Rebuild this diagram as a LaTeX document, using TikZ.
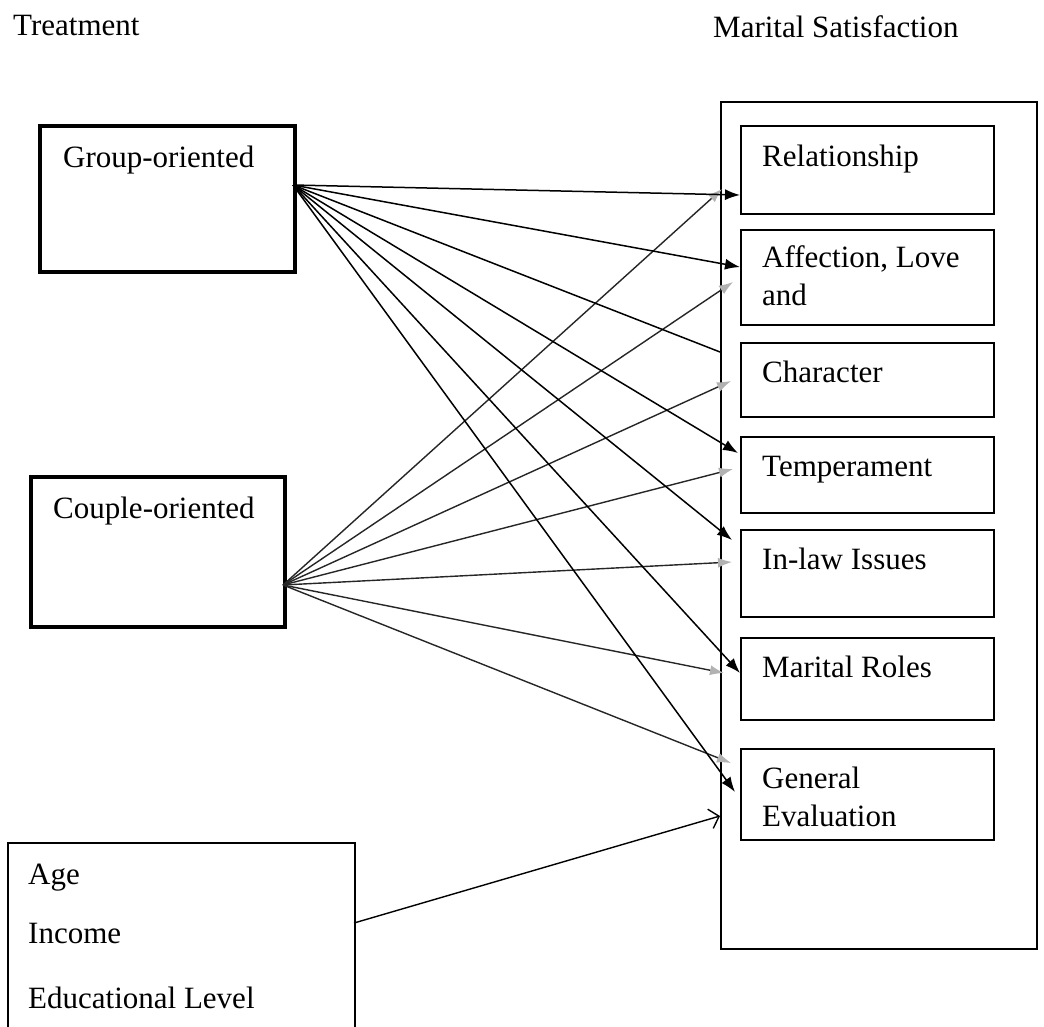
\documentclass[tikz,border=0pt]{standalone}
\usepackage{fontspec}
\setmainfont{Liberation Serif}
\usetikzlibrary{arrows.meta}
\begin{document}
\begin{tikzpicture}[x=1pt,y=-1pt,
  txt/.style={anchor=base west,inner sep=0pt,font=\fontsize{31}{37}\selectfont},
  mtxt/.style={anchor=base west,inner sep=0pt,align=left,font=\fontsize{31}{37.5}\selectfont},
  tbox/.style={draw,line width=3.8pt,anchor=north west,inner sep=0pt},
  ibox/.style={draw,line width=1.8pt,anchor=north west,inner sep=0pt},
  obox/.style={draw,line width=1.8pt,anchor=north west,inner sep=0pt},
  garrow/.style={line width=1.5pt,-{Latex[length=15pt,width=11pt]}},
  carrow/.style={line width=1.4pt,draw=black!85,-{Latex[length=14pt,width=10pt,color=black!30]}},
  oarrow/.style={line width=1.4pt,-{Straight Barb[length=9pt,width=20pt]}}]
\useasboundingbox (0,0) rectangle (1044,1026);
\fill[white] (0,0) rectangle (1044,1026);

% titles
\node[txt] (ttreat) at (13,35) {Treatment};
\node[txt] (tmar) at (713,37) {Marital Satisfaction};

% outer box
\node[obox,minimum width=316pt,minimum height=847pt] (outer) at (720,101) {};

% inner boxes
\node[ibox,minimum width=253pt,minimum height=88pt] (rel) at (740,125) {};
\node[ibox,minimum width=253pt,minimum height=95pt] (aff) at (740,229) {};
\node[ibox,minimum width=253pt,minimum height=74pt] (cha) at (740,342) {};
\node[ibox,minimum width=253pt,minimum height=76pt] (tem) at (740,436) {};
\node[ibox,minimum width=253pt,minimum height=87pt] (inl) at (740,529) {};
\node[ibox,minimum width=253pt,minimum height=82pt] (mar) at (740,637) {};
\node[ibox,minimum width=253pt,minimum height=91pt] (gen) at (740,748) {};

\node[txt] (lrel) at (762,166) {Relationship};
\node[mtxt] (laff) at (762,305) {Affection, Love\\and};
\node[txt] (lcha) at (762,382) {Character};
\node[txt] (ltem) at (762,476) {Temperament};
\node[txt] (linl) at (762,569) {In-law Issues};
\node[txt] (lmar) at (762,677) {Marital Roles};
\node[mtxt] (lgen) at (762,826) {General\\Evaluation};

% left boxes
\node[tbox,minimum width=255pt,minimum height=146pt] (grp) at (38,124) {};
\node[txt] (lgrp) at (63,167) {Group-oriented};
\node[tbox,minimum width=254pt,minimum height=150pt] (cpl) at (29,475) {};
\node[txt] (lcpl) at (53,518) {Couple-oriented};
\node[ibox,line width=1.6pt,minimum width=347pt,minimum height=200pt] (cov) at (7,842) {};
\node[txt] (lage) at (28,884) {Age};
\node[txt] (linc) at (28,943) {Income};
\node[txt] (ledu) at (28,1008) {Educational Level};

% connector end points
\coordinate (gs) at (293,185);
\coordinate (cs) at (283,585);
\coordinate (covs) at (354,923);
\coordinate (g1) at (740,195);
\coordinate (g2) at (740,267);
\coordinate (g3) at (720,352);
\coordinate (g4) at (738,453);
\coordinate (g5) at (732,540);
\coordinate (g6) at (740,673);
\coordinate (g7) at (735,792);
\coordinate (c1) at (722,189);
\coordinate (c2) at (733,282);
\coordinate (c3) at (731,381);
\coordinate (c4) at (733,469);
\coordinate (c5) at (732,562);
\coordinate (c6) at (724,673);
\coordinate (c7) at (731,763);
\coordinate (cv) at (720,816);

% couple-oriented connectors
\foreach \t in {c1,c2,c3,c4,c5,c6,c7} \draw[carrow] (cs) -- (\t);
% group-oriented connectors
\foreach \t in {g1,g2,g4,g5,g6,g7} \draw[garrow] (gs) -- (\t);
\draw[line width=1.5pt] (gs) -- (g3);
% covariates
\draw[oarrow] (covs) -- (cv);
\end{tikzpicture}
\end{document}
